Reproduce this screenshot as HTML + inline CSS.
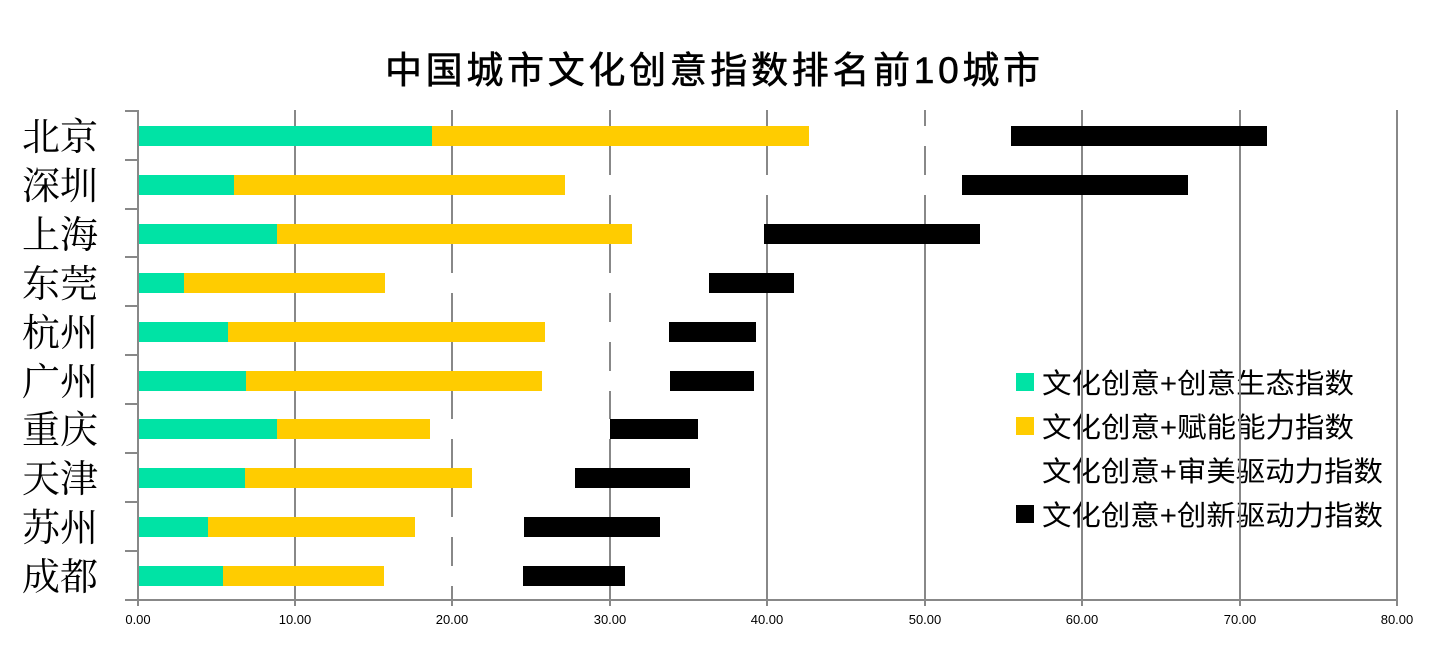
<!DOCTYPE html>
<html><head><meta charset="utf-8"><style>
body{margin:0;background:#fff}
svg{display:block}
.cj{font-family:"Liberation Sans","Noto Sans CJK SC",sans-serif}
.sr{font-family:"Liberation Serif","Noto Serif CJK SC",serif}
</style></head><body>
<svg width="1450" height="652" xmlns="http://www.w3.org/2000/svg">
<rect width="1450" height="652" fill="#fff"/>
<text x="385" y="83" textLength="655" lengthAdjust="spacing" class="cj" font-size="37" fill="#000" stroke="#000" stroke-width="0.6">中国城市文化创意指数排名前10城市</text>
<g class="cj" font-size="28" fill="#000">
<rect x="1016" y="373" width="18" height="18" fill="#00E3A5"/><text x="1042" y="393" textLength="312" lengthAdjust="spacingAndGlyphs">文化创意+创意生态指数</text>
<rect x="1016" y="417" width="18" height="18" fill="#FFCC00"/><text x="1042" y="437" textLength="312" lengthAdjust="spacingAndGlyphs">文化创意+赋能能力指数</text>
<text x="1042" y="481" textLength="341" lengthAdjust="spacingAndGlyphs">文化创意+审美驱动力指数</text>
<rect x="1016" y="505" width="18" height="18" fill="#000"/><text x="1042" y="525" textLength="341" lengthAdjust="spacingAndGlyphs">文化创意+创新驱动力指数</text>
</g>
<g stroke="#888" stroke-width="2">
<line x1="295" y1="110" x2="295" y2="606"/><line x1="452" y1="110" x2="452" y2="606"/>
<line x1="610" y1="110" x2="610" y2="606"/><line x1="767" y1="110" x2="767" y2="606"/>
<line x1="925" y1="110" x2="925" y2="606"/><line x1="1082" y1="110" x2="1082" y2="606"/>
<line x1="1240" y1="110" x2="1240" y2="606"/><line x1="1397" y1="110" x2="1397" y2="606"/>
<line x1="138" y1="110" x2="138" y2="606"/>
<line x1="125" y1="600" x2="1397" y2="600"/>
<line x1="125" y1="111" x2="138" y2="111"/><line x1="125" y1="160" x2="138" y2="160"/>
<line x1="125" y1="209" x2="138" y2="209"/><line x1="125" y1="257" x2="138" y2="257"/>
<line x1="125" y1="306" x2="138" y2="306"/><line x1="125" y1="355" x2="138" y2="355"/>
<line x1="125" y1="404" x2="138" y2="404"/><line x1="125" y1="453" x2="138" y2="453"/>
<line x1="125" y1="502" x2="138" y2="502"/><line x1="125" y1="551" x2="138" y2="551"/>
</g>
<g class="cj" font-size="13" fill="#000" text-anchor="middle">
<text x="138" y="624">0.00</text><text x="295" y="624">10.00</text><text x="452" y="624">20.00</text>
<text x="610" y="624">30.00</text><text x="767" y="624">40.00</text><text x="925" y="624">50.00</text>
<text x="1082" y="624">60.00</text><text x="1240" y="624">70.00</text><text x="1397" y="624">80.00</text>
</g>
<g class="sr" font-size="38" fill="#000">
<text x="22" y="150">北京</text><text x="22" y="199">深圳</text><text x="22" y="248">上海</text>
<text x="22" y="297">东莞</text><text x="22" y="346">杭州</text><text x="22" y="395">广州</text>
<text x="22" y="443">重庆</text><text x="22" y="492">天津</text><text x="22" y="541">苏州</text>
<text x="22" y="590">成都</text>
</g>
<g>
<rect x="139" y="126" width="293" height="20" fill="#00E3A5"/><rect x="432" y="126" width="377" height="20" fill="#FFCC00"/><rect x="809" y="126" width="202" height="20" fill="#fff"/><rect x="1011" y="126" width="256" height="20" fill="#000"/>
<rect x="139" y="175" width="95" height="20" fill="#00E3A5"/><rect x="234" y="175" width="331" height="20" fill="#FFCC00"/><rect x="565" y="175" width="397" height="20" fill="#fff"/><rect x="962" y="175" width="226" height="20" fill="#000"/>
<rect x="139" y="224" width="138" height="20" fill="#00E3A5"/><rect x="277" y="224" width="355" height="20" fill="#FFCC00"/><rect x="632" y="224" width="132" height="20" fill="#fff"/><rect x="764" y="224" width="216" height="20" fill="#000"/>
<rect x="139" y="273" width="45" height="20" fill="#00E3A5"/><rect x="184" y="273" width="201" height="20" fill="#FFCC00"/><rect x="385" y="273" width="324" height="20" fill="#fff"/><rect x="709" y="273" width="85" height="20" fill="#000"/>
<rect x="139" y="322" width="89" height="20" fill="#00E3A5"/><rect x="228" y="322" width="317" height="20" fill="#FFCC00"/><rect x="545" y="322" width="124" height="20" fill="#fff"/><rect x="669" y="322" width="87" height="20" fill="#000"/>
<rect x="139" y="371" width="107" height="20" fill="#00E3A5"/><rect x="246" y="371" width="296" height="20" fill="#FFCC00"/><rect x="542" y="371" width="128" height="20" fill="#fff"/><rect x="670" y="371" width="84" height="20" fill="#000"/>
<rect x="139" y="419" width="138" height="20" fill="#00E3A5"/><rect x="277" y="419" width="153" height="20" fill="#FFCC00"/><rect x="430" y="419" width="180" height="20" fill="#fff"/><rect x="610" y="419" width="88" height="20" fill="#000"/>
<rect x="139" y="468" width="106" height="20" fill="#00E3A5"/><rect x="245" y="468" width="227" height="20" fill="#FFCC00"/><rect x="472" y="468" width="103" height="20" fill="#fff"/><rect x="575" y="468" width="115" height="20" fill="#000"/>
<rect x="139" y="517" width="69" height="20" fill="#00E3A5"/><rect x="208" y="517" width="207" height="20" fill="#FFCC00"/><rect x="415" y="517" width="109" height="20" fill="#fff"/><rect x="524" y="517" width="136" height="20" fill="#000"/>
<rect x="139" y="566" width="84" height="20" fill="#00E3A5"/><rect x="223" y="566" width="161" height="20" fill="#FFCC00"/><rect x="384" y="566" width="139" height="20" fill="#fff"/><rect x="523" y="566" width="102" height="20" fill="#000"/>
</g>
</svg>
</body></html>
